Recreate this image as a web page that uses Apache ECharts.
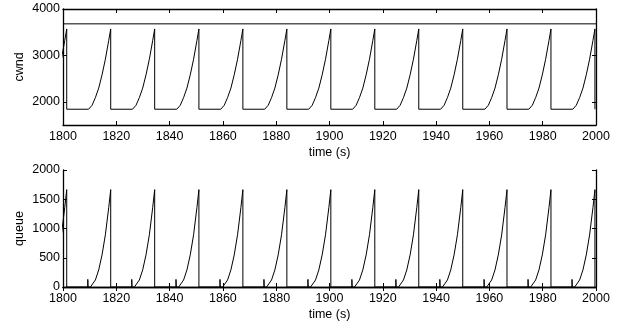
<!DOCTYPE html>
<html>
<head>
<meta charset="utf-8">
<script src="https://cdn.jsdelivr.net/npm/echarts@6.0.0/dist/echarts.min.js"></script>
<style>
  html, body { margin: 0; padding: 0; background: #fff; }
  #chart { width: 625px; height: 328px; }
</style>
</head>
<body>
<div id="chart"></div>
<script>
// times (s) of each sawtooth peak / drop
const peakTimes = [1801.4, 1817.9, 1834.4, 1851.0, 1867.5, 1884.0, 1900.5,
                   1917.0, 1933.5, 1950.0, 1966.6, 1983.1, 1999.6];

// cwnd rise, [seconds before the peak, cwnd]
const cwndRise = [[-8.3, 1840], [-7.0, 1925], [-5.75, 2090], [-4.5, 2295],
                  [-3.25, 2581], [-2.0, 2918], [-0.75, 3318], [0, 3570]];
const cwndBase = 1840;
const cwndLimit = 3680;

// queue: small spike, then the rise, [seconds before the peak, queue]
const queueSpike = [[-8.6, 0], [-8.6, 130], [-8.5, 0]];
const queueRise = [[-7.6, 0], [-7.0, 20], [-5.75, 120], [-4.5, 292],
                   [-3.25, 549], [-2.0, 892], [-0.75, 1355], [0, 1664]];

const timeTicks = [1800, 1820, 1840, 1860, 1880, 1900, 1920, 1940, 1960, 1980, 2000];
const cwndTicks = [2000, 3000, 4000];
const queueTicks = [0, 500, 1000, 1500, 2000];

// build the line data from the cycles
let cwndData = [];
let queueData = [];
peakTimes.forEach(p => {
  cwndRise.forEach(d => cwndData.push([p + d[0], d[1]]));
  cwndData.push([p, cwndBase]);
  queueSpike.forEach(d => queueData.push([p + d[0], d[1]]));
  queueRise.forEach(d => queueData.push([p + d[0], d[1]]));
  queueData.push([p, 0]);
});

const font = 'Liberation Sans, Arial, sans-serif';
const black = '#000';

function xAx(grid, top) {
  return {
    type: 'value', gridIndex: grid, position: top ? 'top' : 'bottom',
    min: 1800, max: 2000, interval: 20,
    axisLine: { show: true, lineStyle: { color: black, width: 1.3 } },
    axisTick: { show: true, inside: true, length: 4, lineStyle: { color: black } },
    axisLabel: { show: !top, color: black, fontSize: 12.5, fontFamily: font, margin: 5,
                 customValues: timeTicks, formatter: v => String(v) },
    splitLine: { show: false },
    name: top ? '' : 'time (s)', nameLocation: 'middle', nameGap: 21,
    nameMoveOverlap: false,
    nameTextStyle: { color: black, fontSize: 12.5, fontFamily: font }
  };
}

function yAx(grid, right, min, max, ticks, name) {
  return {
    type: 'value', gridIndex: grid, position: right ? 'right' : 'left',
    min: min, max: max,
    axisLine: { show: true, lineStyle: { color: black, width: 1.3 } },
    axisTick: { show: true, inside: true, length: 4, lineStyle: { color: black },
                customValues: ticks },
    axisLabel: { show: !right, color: black, fontSize: 12.5, fontFamily: font, margin: 3,
                 customValues: ticks, formatter: v => String(v) },
    splitLine: { show: false },
    name: right ? '' : name, nameLocation: 'middle', nameGap: 37, nameRotate: 90,
    nameMoveOverlap: false,
    nameTextStyle: { color: black, fontSize: 12.5, fontFamily: font }
  };
}

const lineStyle = { color: black, width: 1 };

const option = {
  animation: false,
  backgroundColor: '#fff',
  grid: [
    { left: 63, right: 29, top: 9, height: 116 },
    { left: 63, right: 29, top: 170, height: 117 }
  ],
  xAxis: [xAx(0, false), xAx(0, true), xAx(1, false), xAx(1, true)],
  yAxis: [
    yAx(0, false, 1500, 4000, cwndTicks, 'cwnd'),
    yAx(0, true, 1500, 4000, cwndTicks, ''),
    yAx(1, false, 0, 2000, queueTicks, 'queue'),
    yAx(1, true, 0, 2000, queueTicks, '')
  ],
  series: [
    { type: 'line', xAxisIndex: 0, yAxisIndex: 0, data: cwndData, showSymbol: false,
      lineStyle: lineStyle, clip: true },
    { type: 'line', xAxisIndex: 0, yAxisIndex: 0, data: [[1800, cwndLimit], [2000, cwndLimit]],
      showSymbol: false, lineStyle: lineStyle, clip: true },
    { type: 'line', xAxisIndex: 2, yAxisIndex: 2, data: queueData, showSymbol: false,
      lineStyle: lineStyle, clip: true }
  ]
};

const chart = echarts.init(document.getElementById('chart'));
chart.setOption(option);
</script>
</body>
</html>
